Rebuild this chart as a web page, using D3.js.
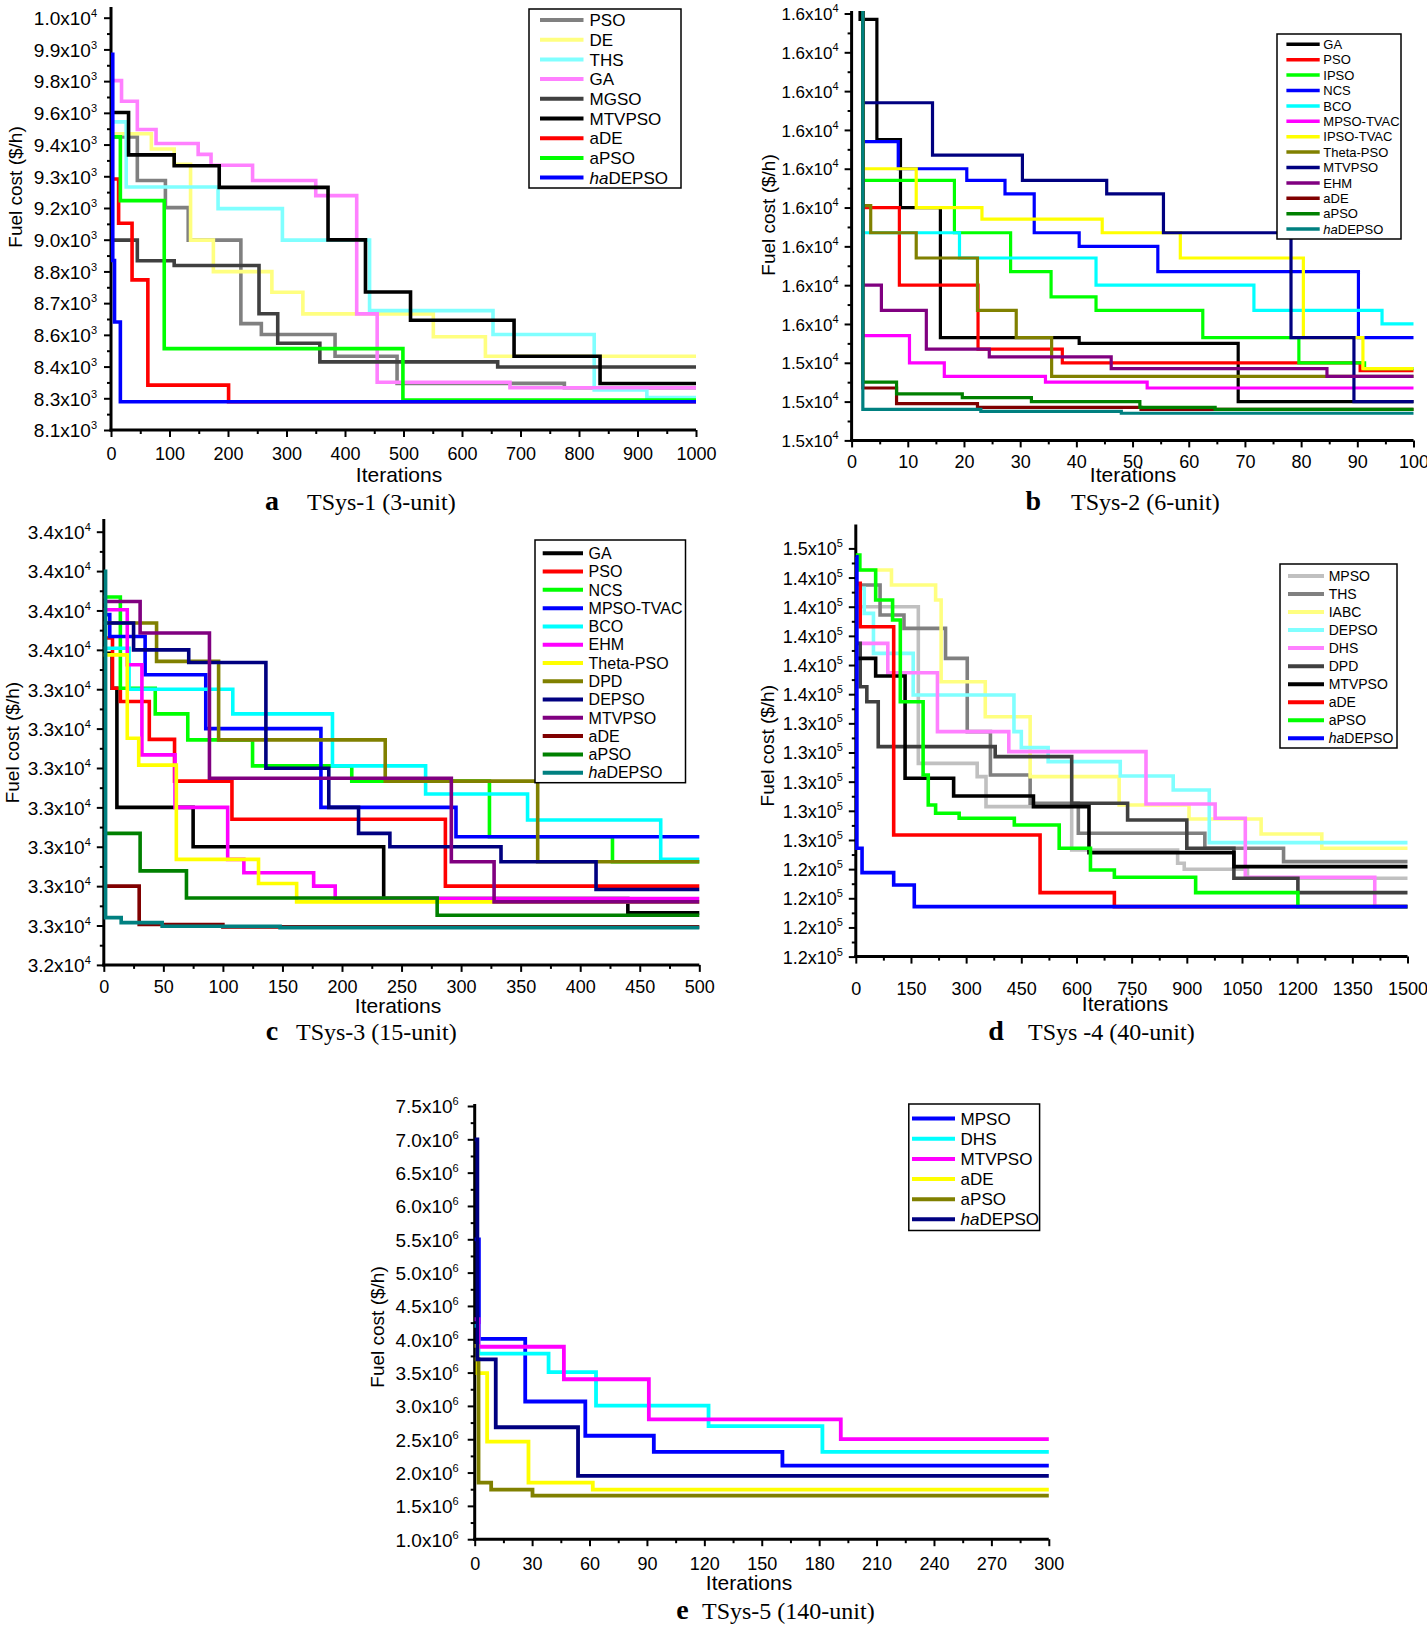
<!DOCTYPE html>
<html><head><meta charset="utf-8">
<script src="https://cdn.jsdelivr.net/npm/d3@7"></script>
<style>
body{margin:0;background:#fff}
svg{display:block}
</style>
</head><body>
<svg id="chart" width="1427" height="1628"></svg>
<script>
// ---------------- DATA ----------------
// Panel a: TSys-1 (3-unit)
const tsys1Names = ["PSO","DE","THS","GA","MGSO","MTVPSO","aDE","aPSO","haDEPSO"];
const tsys1_PSO = [[0,9450],[45,9250],[93,9125],[132,8975],[222,8590],[257,8540],[383,8440],[489,8315],[775,8295],[1000,8295]];
const tsys1_DE = [[0,9465],[69,9395],[108,9325],[136,8975],[175,8830],[275,8735],[328,8635],[551,8530],[640,8440],[1000,8440]];
const tsys1_THS = [[0,9520],[26,9220],[183,9120],[293,8975],[442,8650],[653,8540],[826,8285],[916,8250],[1000,8250]];
const tsys1_GA = [[0,9710],[18,9615],[45,9485],[77,9420],[149,9370],[171,9320],[242,9250],[350,9180],[420,8635],[455,8320],[682,8295],[1000,8295]];
const tsys1_MGSO = [[0,8975],[45,8880],[108,8858],[253,8636],[285,8500],[357,8414],[661,8390],[1000,8390]];
const tsys1_MTVPSO = [[0,9563],[30,9368],[108,9318],[185,9218],[371,8976],[435,8736],[512,8606],[689,8440],[836,8314],[1000,8314]];
const tsys1_aDE = [[0,9257],[13,9053],[36,8792],[63,8307],[201,8230],[1000,8230]];
const tsys1_aPSO = [[0,9451],[16,9157],[91,8475],[499,8238],[1000,8238]];
const tsys1_haDEPSO = [[0,9831],[3,8881],[6,8598],[16,8230],[1000,8230]];
const tsys1Series = [tsys1_PSO,tsys1_DE,tsys1_THS,tsys1_GA,tsys1_MGSO,tsys1_MTVPSO,tsys1_aDE,tsys1_aPSO,tsys1_haDEPSO];
const tsys1YLabels = ["8.1x10^3","8.3x10^3","8.4x10^3","8.6x10^3","8.7x10^3","8.8x10^3","9.0x10^3","9.2x10^3","9.3x10^3","9.4x10^3","9.6x10^3","9.8x10^3","9.9x10^3","1.0x10^4"];
const tsys1YDomain = [8100, 10000];
const tsys1XTicks = d3.range(0, 1001, 100);

// Panel b: TSys-2 (6-unit)
const tsys2Names = ["GA","PSO","IPSO","NCS","BCO","MPSO-TVAC","IPSO-TVAC","Theta-PSO","MTVPSO","EHM","aDE","aPSO","haDEPSO"];
const tsys2_GA = [[0,15700],[1.5,15657],[4.5,15595],[8.7,15560],[15.8,15493],[40.5,15490],[68.8,15460],[100,15460]];
const tsys2_PSO = [[0,15700],[2,15560],[8.5,15520],[22.5,15487],[37.5,15480],[90.5,15476],[100,15476]];
const tsys2_IPSO = [[0,15700],[2,15574],[18.3,15547],[28.3,15527],[35.5,15514],[43.5,15507],[62.5,15493],[79.6,15480],[91.3,15477],[100,15477]];
const tsys2_NCS = [[0,15700],[2,15594],[8.3,15580],[20.5,15574],[27.3,15567],[32.5,15547],[40.5,15540],[54.5,15527],[90.2,15493],[100,15493]];
const tsys2_BCO = [[0,15700],[2,15547],[19.2,15534],[43.5,15520],[71.6,15507],[94.4,15500],[100,15500]];
const tsys2_MPSOTVAC = [[0,15700],[2,15494],[10.3,15480],[16.5,15473],[34.5,15470],[52.6,15467],[100,15467]];
const tsys2_IPSOTVAC = [[0,15700],[2,15580],[11.5,15560],[23.2,15554],[44.6,15547],[58.5,15534],[80.4,15493],[91,15477],[100,15477]];
const tsys2_ThetaPSO = [[0,15700],[2,15561],[3.4,15547],[11.5,15534],[22.4,15507],[29.3,15493],[35.6,15473],[100,15473]];
const tsys2_MTVPSO = [[0,15700],[2,15614],[14.4,15587],[30.4,15574],[45.4,15567],[55.5,15547],[78.2,15493],[89.4,15460],[100,15460]];
const tsys2_EHM = [[0,15700],[2,15520],[5.3,15507],[13.3,15487],[24.5,15483],[46.2,15477],[84.6,15473],[100,15473]];
const tsys2_aDE = [[0,15700],[2,15467],[8,15459],[22.4,15457],[51.5,15456],[100,15456]];
const tsys2_aPSO = [[0,15700],[2,15470],[8,15464],[19.7,15462],[32,15460],[51.3,15457],[64.7,15456],[100,15456]];
const tsys2_haDEPSO = [[0,15700],[2,15456],[23,15455],[48,15454],[100,15454]];
const tsys2Series = [tsys2_GA,tsys2_PSO,tsys2_IPSO,tsys2_NCS,tsys2_BCO,tsys2_MPSOTVAC,tsys2_IPSOTVAC,tsys2_ThetaPSO,tsys2_MTVPSO,tsys2_EHM,tsys2_aDE,tsys2_aPSO,tsys2_haDEPSO];
const tsys2YLabels = ["1.5x10^4","1.5x10^4","1.5x10^4","1.6x10^4","1.6x10^4","1.6x10^4","1.6x10^4","1.6x10^4","1.6x10^4","1.6x10^4","1.6x10^4","1.6x10^4"];
const tsys2YDomain = [15440, 15660];
const tsys2XTicks = d3.range(0, 101, 10);

// Panel c: TSys-3 (15-unit)
const tsys3Names = ["GA","PSO","NCS","MPSO-TVAC","BCO","EHM","Theta-PSO","DPD","DEPSO","MTVPSO","aDE","aPSO","haDEPSO"];
const tsys3_GA = [[0,33637],[7,33504],[11,33050],[75,32900],[235,32703],[440,32648],[500,32648]];
const tsys3_PSO = [[0,33695],[7.3,33504],[13.9,33453],[38.2,33309],[59.4,33150],[107.6,33005],[286.8,32750],[500,32750]];
const tsys3_NCS = [[0,33851],[13.9,33504],[43.2,33406],[70.5,33307],[124.9,33208],[208.2,33150],[323.8,32938],[427.1,32843],[500,32843]];
const tsys3_MPSOTVAC = [[0,33784],[5,33701],[34.7,33555],[85.6,33350],[182.3,33050],[295.7,32938],[500,32938]];
const tsys3_BCO = [[0,33656],[21.2,33500],[108.3,33406],[192,33208],[270.2,33101],[355.8,33002],[467.6,32852],[500,32852]];
const tsys3_EHM = [[0,33803],[19.7,33593],[32,33250],[59.8,33050],[104,32852],[117.6,32801],[176.2,32750],[194.3,32703],[500,32703]];
const tsys3_ThetaPSO = [[0,33631],[19.7,33313],[29.3,33211],[60.9,32852],[129.9,32760],[161.9,32690],[500,32690]];
const tsys3_DPD = [[0,33752],[44.3,33606],[96.4,33307],[236.3,33150],[364.3,32843],[500,32843]];
const tsys3_DEPSO = [[0,33752],[25,33650],[71.3,33602],[136.1,33199],[188.9,33050],[213.9,32951],[240.2,32900],[333.5,32843],[413.3,32737],[500,32737]];
const tsys3_MTVPSO = [[0,33834],[30.5,33714],[88.7,33161],[291.8,32843],[327.7,32690],[500,32690]];
const tsys3_aDE = [[0,32750],[29.7,32604],[100,32595],[500,32595]];
const tsys3_aPSO = [[0,32951],[30.5,32808],[69.4,32705],[279.9,32639],[500,32639]];
const tsys3_haDEPSO = [[0,33949],[1.5,32630],[14.6,32611],[49,32597],[148,32592],[500,32592]];
const tsys3Series = [tsys3_GA,tsys3_PSO,tsys3_NCS,tsys3_MPSOTVAC,tsys3_BCO,tsys3_EHM,tsys3_ThetaPSO,tsys3_DPD,tsys3_DEPSO,tsys3_MTVPSO,tsys3_aDE,tsys3_aPSO,tsys3_haDEPSO];
const tsys3YLabels = ["3.2x10^4","3.3x10^4","3.3x10^4","3.3x10^4","3.3x10^4","3.3x10^4","3.3x10^4","3.3x10^4","3.4x10^4","3.4x10^4","3.4x10^4","3.4x10^4"];
const tsys3YDomain = [32450, 34100];
const tsys3XTicks = d3.range(0, 501, 50);

// Panel d: TSys-4 (40-unit)
const tsys4Names = ["MPSO","THS","IABC","DEPSO","DHS","DPD","MTVPSO","aDE","aPSO","haDEPSO"];
const tsys4_MPSO = [[0,142000],[170,131257],[330,130343],[354,128286],[587,125314],[875,124400],[893,123989],[1065,123371],[1500,123371]];
const tsys4_THS = [[0,143486],[66,141429],[131,140514],[244,138457],[303,133429],[366,130457],[474,128514],[605,126457],[949,125429],[1163,124514],[1500,124514]];
const tsys4_IABC = [[0,144514],[97,143486],[217,142457],[232,136857],[352,134457],[474,130343],[716,128400],[906,127440],[1102,126411],[1267,125429],[1500,125429]];
const tsys4_DEPSO = [[0,143257],[23,141543],[48,138800],[156,135943],[430,133429],[450,132331],[523,131371],[719,130389],[863,129429],[961,125817],[1500,125817]];
const tsys4_DHS = [[0,139486],[87,137474],[222,133429],[416,132057],[789,128469],[977,127486],[1059,123440],[1411,121429],[1500,121429]];
const tsys4_DPD = [[0,139486],[12,136514],[30,135486],[61,132400],[379,131714],[587,128514],[739,127371],[900,125429],[1028,123371],[1202,122389],[1500,122389]];
const tsys4_MTVPSO = [[0,138457],[54,137246],[134,130229],[266,129017],[483,128286],[634,125131],[1028,124171],[1500,124171]];
const tsys4_aDE = [[0,143600],[12,140629],[103,126343],[501,122389],[703,121429],[1500,121429]];
const tsys4_aPSO = [[0,145543],[11,144514],[54,142457],[100,141086],[121,135486],[183,130457],[197,128400],[217,127829],[281,127486],[431,127029],[553,125429],[638,123943],[703,123440],[924,122389],[1202,121429],[1500,121429]];
const tsys4_haDEPSO = [[0,145429],[3,125429],[17,123760],[103,122914],[159,121429],[1500,121429]];
const tsys4Series = [tsys4_MPSO,tsys4_THS,tsys4_IABC,tsys4_DEPSO,tsys4_DHS,tsys4_DPD,tsys4_MTVPSO,tsys4_aDE,tsys4_aPSO,tsys4_haDEPSO];
const tsys4YLabels = ["1.2x10^5","1.2x10^5","1.2x10^5","1.2x10^5","1.3x10^5","1.3x10^5","1.3x10^5","1.3x10^5","1.3x10^5","1.4x10^5","1.4x10^5","1.4x10^5","1.4x10^5","1.4x10^5","1.5x10^5"];
const tsys4YDomain = [118000, 146000];
const tsys4XTicks = d3.range(0, 1501, 150);

// Panel e: TSys-5 (140-unit)
const tsys5Names = ["MPSO","DHS","MTVPSO","aDE","aPSO","haDEPSO"];
const tsys5_MPSO = [[0,5500000],[2.2,4006000],[26.4,3066000],[57.8,2552000],[93.6,2310000],[160.8,2105000],[300,2105000]];
const tsys5_DHS = [[0,4200000],[2,3785000],[38.6,3508000],[63.4,3004000],[122.2,2696000],[181.7,2310000],[300,2310000]];
const tsys5_MTVPSO = [[0,4300000],[2,3888000],[46.6,3400000],[91,2799000],[191.3,2501000],[300,2501000]];
const tsys5_aDE = [[0,3900000],[1.5,3492000],[6.5,2465000],[28.1,1848000],[61.7,1745000],[300,1745000]];
const tsys5_aPSO = [[0,3700000],[2,1848000],[8.6,1745000],[30.2,1653000],[300,1653000]];
const tsys5_haDEPSO = [[0,6997000],[1.4,3698000],[11,2680000],[54,1951000],[300,1951000]];
const tsys5Series = [tsys5_MPSO,tsys5_DHS,tsys5_MTVPSO,tsys5_aDE,tsys5_aPSO,tsys5_haDEPSO];
const tsys5YLabels = ["1.0x10^6","1.5x10^6","2.0x10^6","2.5x10^6","3.0x10^6","3.5x10^6","4.0x10^6","4.5x10^6","5.0x10^6","5.5x10^6","6.0x10^6","6.5x10^6","7.0x10^6","7.5x10^6"];
const tsys5YDomain = [1000000, 7500000];
const tsys5XTicks = d3.range(0, 301, 30);

// Captions
const captionLetters = ["a","b","c","d","e"];
const captionTexts = ["TSys-1 (3-unit)","TSys-2 (6-unit)","TSys-3 (15-unit)","TSys -4 (40-unit)","TSys-5 (140-unit)"];

// ---------------- STYLES ----------------
const tsys1Colors = ["#808080","#ffff80","#80ffff","#ff80ff","#404040","#000000","#ff0000","#00ff00","#0000ff"];
const tsys2Colors = ["#000000","#ff0000","#00ff00","#0000ff","#00ffff","#ff00ff","#ffff00","#808000","#000080","#800080","#800000","#008000","#008080"];
const tsys3Colors = ["#000000","#ff0000","#00ff00","#0000ff","#00ffff","#ff00ff","#ffff00","#808000","#000080","#800080","#800000","#008000","#008080"];
const tsys4Colors = ["#c0c0c0","#808080","#ffff80","#80ffff","#ff80ff","#404040","#000000","#ff0000","#00ff00","#0000ff"];
const tsys5Colors = ["#0000ff","#00ffff","#ff00ff","#ffff00","#808000","#000080"];

const panels = [
  {names:tsys1Names, series:tsys1Series, colors:tsys1Colors, yLabels:tsys1YLabels, yDomain:tsys1YDomain, xTicks:tsys1XTicks,
   x0:111, x1:696, yb:430, yt:17.7, axisTop:7, lw:3.6, xLabOff:23.3, yfs:19, yGap:14,
   xTitle:[399,474.6], yTitle:[15,187], cap:[272,307,510],
   leg:{x:529,y:9,w:152,h:179, r0:20, dr:19.7, s0:540, s1:583.5, tx:589.5, fs:17, lw:4}},
  {names:tsys2Names, series:tsys2Series, colors:tsys2Colors, yLabels:tsys2YLabels, yDomain:tsys2YDomain, xTicks:tsys2XTicks,
   x0:851.6, x1:1413.5, yb:440.4, yt:13.5, axisTop:11, lw:3.2, xLabOff:21, yfs:17, yGap:13,
   xTitle:[1133,474.6], yTitle:[767.5,215], cap:[1033.4,1071,510],
   leg:{x:1277,y:34,w:124,h:205, r0:44.3, dr:15.4, s0:1286.4, s1:1319.7, tx:1323.3, fs:13, lw:3.5}},
  {names:tsys3Names, series:tsys3Series, colors:tsys3Colors, yLabels:tsys3YLabels, yDomain:tsys3YDomain, xTicks:tsys3XTicks,
   x0:103.8, x1:699.3, yb:964.9, yt:531.7, axisTop:519, lw:3.6, xLabOff:22, yfs:19, yGap:13,
   xTitle:[398,1006.4], yTitle:[12,742.6], cap:[272,296,1039.5],
   leg:{x:535,y:540,w:150.5,h:242.7, r0:553.3, dr:18.28, s0:542.7, s1:583, tx:588.6, fs:16, lw:4}},
  {names:tsys4Names, series:tsys4Series, colors:tsys4Colors, yLabels:tsys4YLabels, yDomain:tsys4YDomain, xTicks:tsys4XTicks,
   x0:855.8, x1:1407.5, yb:956.6, yt:548.4, axisTop:524.5, lw:3.6, xLabOff:32, yfs:18, yGap:13,
   xTitle:[1125,1004.3], yTitle:[767,745.7], cap:[996,1028,1039.5],
   leg:{x:1280,y:564,w:117,h:184, r0:576, dr:18.03, s0:1288, s1:1324, tx:1328.7, fs:14, lw:4}},
  {names:tsys5Names, series:tsys5Series, colors:tsys5Colors, yLabels:tsys5YLabels, yDomain:tsys5YDomain, xTicks:tsys5XTicks,
   x0:474.7, x1:1048.8, yb:1539.2, yt:1106, axisTop:1104, lw:3.8, xLabOff:24, yfs:19, yGap:16,
   xTitle:[749,1582.8], yTitle:[377,1327], cap:[682.4,702,1619],
   leg:{x:908.8,y:1104,w:130.8,h:126.5, r0:1118.6, dr:20.14, s0:912, s1:955, tx:960.6, fs:17, lw:4}}
];

const svg = d3.select("#chart");
const SANS = "'Liberation Sans', Arial, sans-serif";
const SERIF = "'Liberation Serif', 'Times New Roman', serif";

panels.forEach((p, pi) => {
  const g = svg.append("g").style("font-family", SANS);
  const x = d3.scaleLinear().domain([0, p.xTicks[p.xTicks.length-1]]).range([p.x0, p.x1]);
  const y = d3.scaleLinear().domain(p.yDomain).range([p.yb, p.yt]);
  const n = p.yLabels.length;
  const yTicks = d3.range(n).map(i => p.yDomain[0] + i*(p.yDomain[1]-p.yDomain[0])/(n-1));
  const yMinor = d3.range(n-1).map(i => (yTicks[i]+yTicks[i+1])/2);
  const xMinor = d3.range(p.xTicks.length-1).map(i => (p.xTicks[i]+p.xTicks[i+1])/2);

  const cid = "clip" + pi;
  svg.append("clipPath").attr("id", cid).append("rect")
    .attr("x", p.x0 - 4).attr("y", p.axisTop).attr("width", p.x1 - p.x0 + 6).attr("height", p.yb - p.axisTop + 3);

  // x axis
  const gx = g.append("g").attr("transform", `translate(0,${p.yb})`)
    .call(d3.axisBottom(x).tickValues(p.xTicks).tickSize(7).tickSizeOuter(0).tickFormat(d3.format("d")));
  gx.attr("font-family", null);
  gx.select(".domain").remove();
  gx.selectAll(".tick line").attr("stroke-width", 2);
  gx.selectAll(".tick text").style("font-family", SANS).attr("font-size", 18).attr("y", p.xLabOff + 6.5).attr("dy", 0);
  const gxm = g.append("g").attr("transform", `translate(0,${p.yb})`)
    .call(d3.axisBottom(x).tickValues(xMinor).tickSize(4).tickSizeOuter(0).tickFormat(""));
  gxm.select(".domain").remove();
  gxm.selectAll(".tick line").attr("stroke-width", 2);

  // y axis
  const gy = g.append("g").attr("transform", `translate(${p.x0},0)`)
    .call(d3.axisLeft(y).tickValues(yTicks).tickSize(7).tickSizeOuter(0));
  gy.attr("font-family", null);
  gy.select(".domain").remove();
  gy.selectAll(".tick line").attr("stroke-width", 2);
  gy.selectAll(".tick text").each(function(d, i) {
    const parts = p.yLabels[i].split("^");
    const t = d3.select(this).text(null).style("font-family", SANS)
      .attr("x", -p.yGap).attr("dy", "0.36em").attr("font-size", p.yfs);
    t.append("tspan").text(parts[0]);
    t.append("tspan").attr("font-size", 11).attr("dy", -8).text(parts[1]);
  });
  const gym = g.append("g").attr("transform", `translate(${p.x0},0)`)
    .call(d3.axisLeft(y).tickValues(yMinor).tickSize(4).tickSizeOuter(0).tickFormat(""));
  gym.select(".domain").remove();
  gym.selectAll(".tick line").attr("stroke-width", 2);

  // axis lines
  g.append("line").attr("x1", p.x0).attr("x2", p.x0).attr("y1", p.axisTop).attr("y2", p.yb + 1.5)
    .attr("stroke", "#000").attr("stroke-width", 3);
  g.append("line").attr("x1", p.x0 - 1.5).attr("x2", p.x1).attr("y1", p.yb).attr("y2", p.yb)
    .attr("stroke", "#000").attr("stroke-width", 3);

  // series
  const line = d3.line().x(d => x(d[0])).y(d => y(d[1])).curve(d3.curveStepAfter);
  const gl = g.append("g").attr("clip-path", `url(#${cid})`);
  p.series.forEach((s, si) => {
    gl.append("path").attr("d", line(s)).attr("fill", "none")
      .attr("stroke", p.colors[si]).attr("stroke-width", p.lw).attr("stroke-linejoin", "miter");
  });

  // titles
  g.append("text").attr("x", p.xTitle[0]).attr("y", p.xTitle[1] + 7).attr("text-anchor", "middle")
    .attr("font-size", 21).text("Iterations");
  g.append("text").attr("transform", `translate(${p.yTitle[0] + 7},${p.yTitle[1]}) rotate(-90)`)
    .attr("text-anchor", "middle").attr("font-size", 19).text("Fuel cost ($/h)");

  // caption
  g.append("text").attr("x", p.cap[0]).attr("y", p.cap[2]).attr("text-anchor", "middle")
    .style("font-family", SERIF).attr("font-weight", "bold")
    .attr("font-size", 28).text(captionLetters[pi]);
  g.append("text").attr("x", p.cap[1]).attr("y", p.cap[2])
    .style("font-family", SERIF).attr("font-size", 24).text(captionTexts[pi]);

  // legend
  const L = p.leg;
  const gleg = g.append("g");
  gleg.append("rect").attr("x", L.x).attr("y", L.y).attr("width", L.w).attr("height", L.h)
    .attr("fill", "#fff").attr("stroke", "#000").attr("stroke-width", 1.5);
  p.names.forEach((nm, i) => {
    const cy = L.r0 + i * L.dr;
    gleg.append("line").attr("x1", L.s0).attr("x2", L.s1).attr("y1", cy).attr("y2", cy)
      .attr("stroke", p.colors[i]).attr("stroke-width", L.lw);
    const t = gleg.append("text").attr("x", L.tx).attr("y", cy).attr("dy", "0.36em").attr("font-size", L.fs);
    if (nm.startsWith("ha")) {
      t.append("tspan").attr("font-style", "italic").text("ha");
      t.append("tspan").text(nm.slice(2));
    } else {
      t.text(nm);
    }
  });
});
</script>
</body></html>
